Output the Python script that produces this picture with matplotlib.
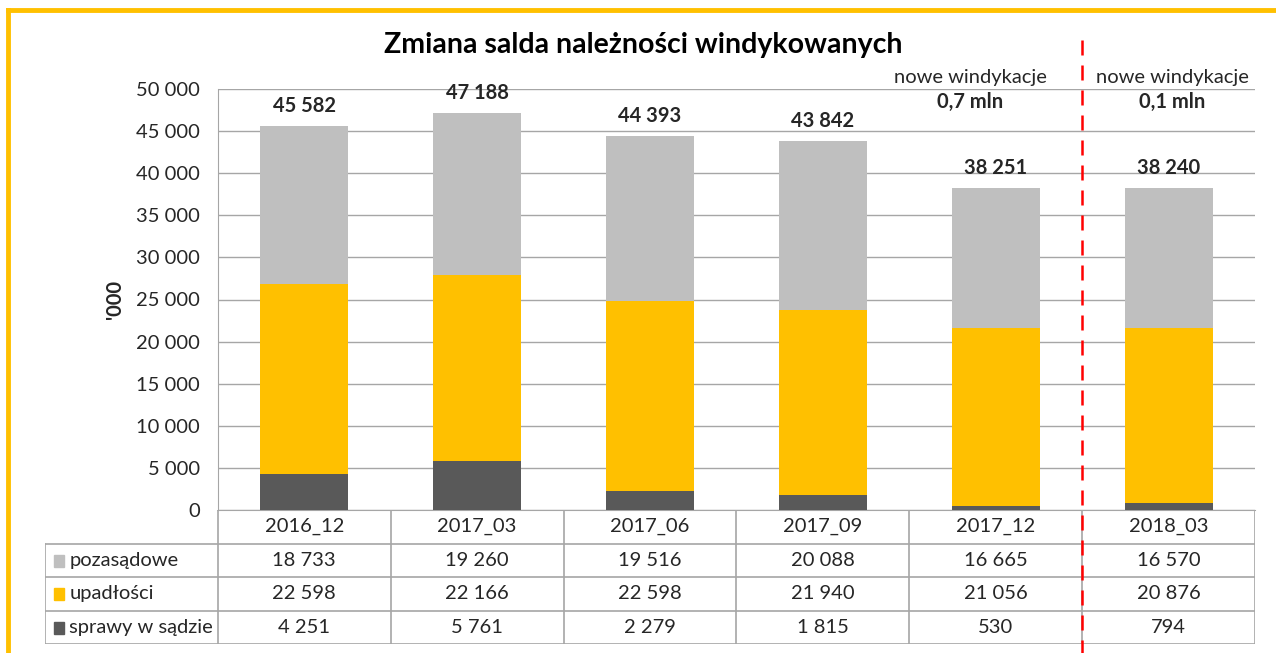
import numpy as np
import matplotlib.pyplot as plt
from matplotlib.lines import Line2D
from matplotlib.patches import Rectangle

# data
categories = ["2016_12", "2017_03", "2017_06", "2017_09", "2017_12", "2018_03"]
sprawy = [4251, 5761, 2279, 1815, 530, 794]
upadlosci = [22598, 22166, 22598, 21940, 21056, 20876]
pozasadowe = [18733, 19260, 19516, 20088, 16665, 16570]
totals = [45582, 47188, 44393, 43842, 38251, 38240]
series_names = ["pozasądowe", "upadłości", "sprawy w sądzie"]
yticks = np.arange(0, 50001, 5000)

C_GREY = "#BFBFBF"
C_YEL = "#FFC000"
C_DARK = "#595959"
C_LINE = "#A6A6A6"
TXT = "#262626"
FS = 14.5

plt.rcParams['font.family'] = ['Lato', 'DejaVu Sans']

W, H = 1276, 653
fig = plt.figure(figsize=(W / 100, H / 100), dpi=100)


def fx(px):
    return px / W


def fy(py):
    return 1 - py / H


def fmt(v):
    return f"{v:,}".replace(",", " ")


# bars
ax = fig.add_axes([fx(218), fy(510), fx(1255) - fx(218), fy(89) - fy(510)])
x = np.arange(len(categories))
bw = 0.51
ax.bar(x, sprawy, bw, color=C_DARK, zorder=3)
ax.bar(x, upadlosci, bw, bottom=sprawy, color=C_YEL, zorder=3)
bot2 = np.array(sprawy) + np.array(upadlosci)
ax.bar(x, pozasadowe, bw, bottom=bot2, color=C_GREY, zorder=3)
tops = bot2 + np.array(pozasadowe)
for i, t in enumerate(totals):
    ax.text(x[i], tops[i] + 1200, fmt(t), ha='center', va='bottom',
            fontsize=FS, fontweight='bold', color=TXT)

ax.set_xlim(-0.5, 5.5)
ax.set_ylim(0, 50000)
ax.set_yticks(yticks)
ax.set_yticklabels([fmt(v) for v in yticks], fontsize=FS, color=TXT)
ax.tick_params(axis='y', length=0, pad=13)
ax.set_xticks([])
ax.grid(axis='y', color=C_LINE, lw=1, zorder=0)
for s in ['top', 'right']:
    ax.spines[s].set_visible(False)
ax.spines['left'].set_color(C_LINE)
ax.spines['bottom'].set_color(C_LINE)
ax.set_ylabel("'000", fontsize=FS, fontweight='bold', color=TXT)
ax.yaxis.set_label_coords((125 - 218) / 1037, 0.5)

# table below
tab = fig.add_axes([fx(45), fy(644), fx(1255) - fx(45), fy(510) - fy(644)])
tab.set_xlim(-1.5, 5.5)
tab.set_ylim(4, 0)
tab.axis('off')
lk = dict(color=C_LINE, lw=1.2)
tab.add_line(Line2D([-0.5, 5.5], [0, 0], **lk))
for r in range(1, 5):
    tab.add_line(Line2D([-1.5, 5.5], [r, r], **lk))
tab.add_line(Line2D([-1.5, -1.5], [1, 4], **lk))
for c in range(7):
    tab.add_line(Line2D([c - 0.5, c - 0.5], [0, 4], **lk))
for i, cat in enumerate(categories):
    tab.text(i, 0.5, cat, ha='center', va='center', fontsize=FS, color=TXT)
rows = [pozasadowe, upadlosci, sprawy]
cols = [C_GREY, C_YEL, C_DARK]
for r, (name, vals, col) in enumerate(zip(series_names, rows, cols)):
    tab.add_patch(Rectangle((-1.45, r + 1.33), 0.06, 0.36, color=col))
    tab.text(-1.36, r + 1.5, name, ha='left', va='center', fontsize=FS, color=TXT)
    for i, v in enumerate(vals):
        tab.text(i, r + 1.5, fmt(v), ha='center', va='center', fontsize=FS, color=TXT)

# title and notes
fig.text(fx(643), fy(45), "Zmiana salda należności windykowanych", ha='center',
         va='center', fontsize=20.5, fontweight='bold', color='black')
for xc, note in [(970, "0,7 mln"), (1172, "0,1 mln")]:
    fig.text(fx(xc), fy(77), "nowe windykacje", ha='center', va='center',
             fontsize=FS, color=TXT)
    fig.text(fx(xc), fy(102), note, ha='center', va='center',
             fontsize=FS, fontweight='bold', color=TXT)

# red dashed separator
fig.add_artist(Line2D([fx(1082), fx(1082)], [fy(40), fy(653)], color='#FF0000',
                      lw=1.8, dashes=(6, 4)))

# yellow frame
fig.add_artist(Line2D([fx(8), fx(1276)], [fy(10), fy(10)], color=C_YEL, lw=3.5))
fig.add_artist(Line2D([fx(8), fx(8)], [fy(10), fy(653)], color=C_YEL, lw=3.5))

fig.savefig("out.png", dpi=100)
